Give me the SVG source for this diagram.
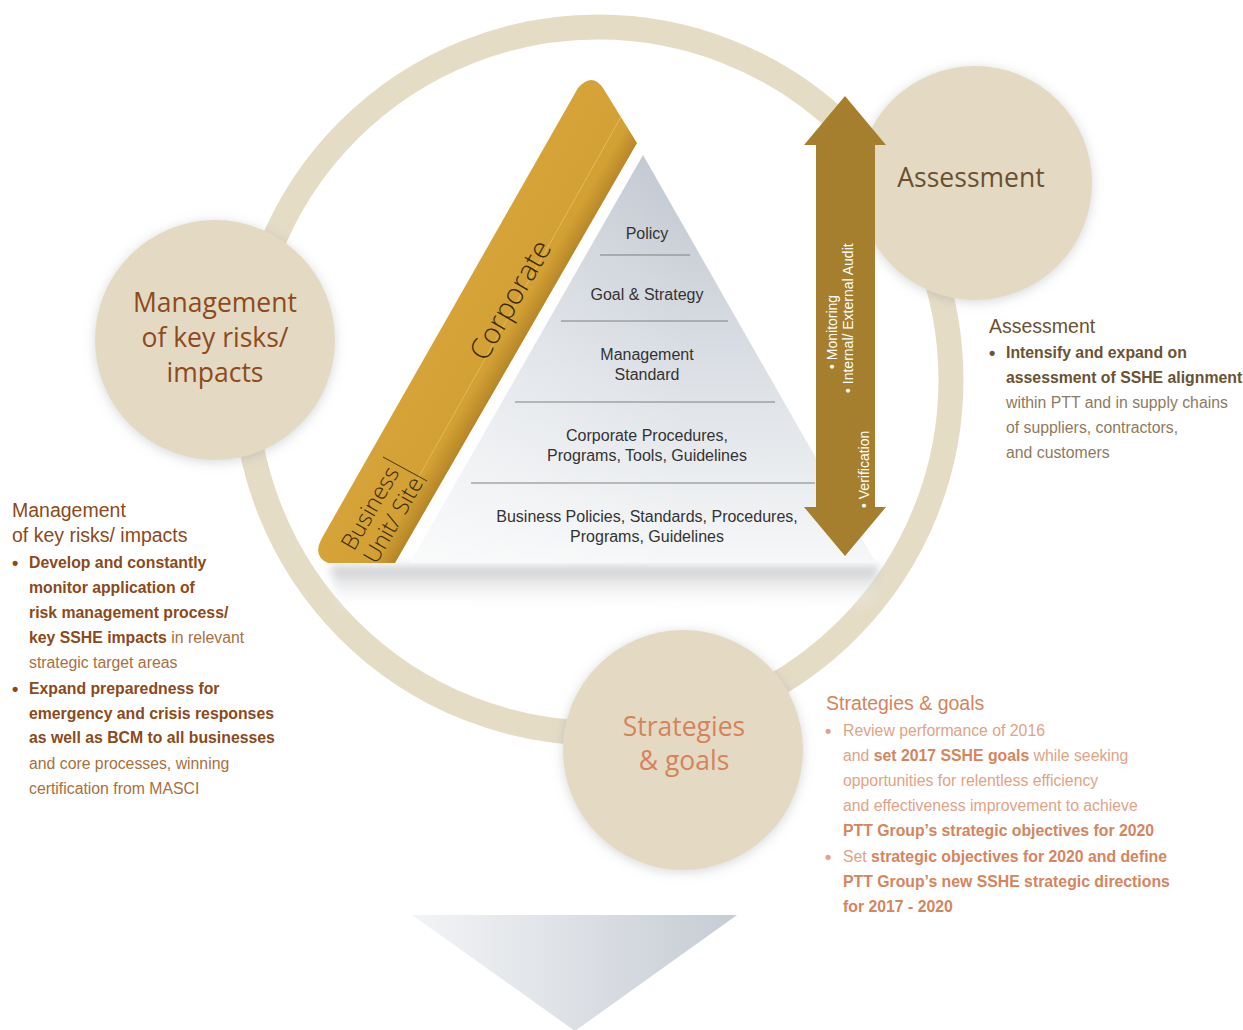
<svg xmlns="http://www.w3.org/2000/svg" width="1243" height="1030" viewBox="0 0 1243 1030">
<defs>
<style>
.ctitle{font-family:"Open Sans","Noto Sans",sans-serif;font-size:26.5px;text-anchor:middle}
.pyr{font-family:"Liberation Sans",Arial,sans-serif;font-size:16px;fill:#333333;text-anchor:middle}
.arr{font-family:"Liberation Sans",Arial,sans-serif;font-size:14px;fill:#ffffff}
.bar{font-family:"Open Sans","Liberation Sans",sans-serif;font-weight:300;fill:#3a2a0c}
.body{font-family:"Liberation Sans",Arial,sans-serif;font-size:15.8px}
.head{font-family:"Liberation Sans",Arial,sans-serif;font-size:19.5px}
.b{font-weight:bold}
.bul{font-size:18px;font-weight:bold}
.lvl{stroke:#808080;stroke-width:1.2}
</style>
<filter id="sh" x="-20%" y="-20%" width="140%" height="140%">
<feDropShadow dx="0" dy="2" stdDeviation="6" flood-color="#8a8f96" flood-opacity="0.35"/>
</filter>
<filter id="blur" x="-10%" y="-50%" width="120%" height="200%">
<feGaussianBlur stdDeviation="5"/>
</filter>
<linearGradient id="pyrG" x1="0" y1="0" x2="0" y2="1">
<stop offset="0" stop-color="#bfc6cf"/>
<stop offset="0.55" stop-color="#dde1e6"/>
<stop offset="1" stop-color="#f6f7f8"/>
</linearGradient>
<linearGradient id="pyrG2" x1="0" y1="0" x2="1" y2="0">
<stop offset="0" stop-color="#ffffff" stop-opacity="0.45"/>
<stop offset="0.6" stop-color="#ffffff" stop-opacity="0"/>
</linearGradient>
<linearGradient id="barG" gradientUnits="userSpaceOnUse" x1="458" y1="300" x2="525" y2="339">
<stop offset="0" stop-color="#d6a339"/>
<stop offset="0.75" stop-color="#d3a034"/>
<stop offset="1" stop-color="#b58627"/>
</linearGradient>
<linearGradient id="shG" x1="0" y1="0" x2="0" y2="1">
<stop offset="0" stop-color="#c4c6c9"/>
<stop offset="1" stop-color="#ffffff" stop-opacity="0"/>
</linearGradient>
<linearGradient id="botG" x1="0" y1="0" x2="1" y2="0">
<stop offset="0" stop-color="#f3f4f6"/>
<stop offset="1" stop-color="#c6ccd4"/>
</linearGradient>
</defs>
<rect width="1243" height="1030" fill="#ffffff"/>

<g id="connectors">
<circle id="ring" cx="598" cy="380" r="353" fill="none" stroke="#e5dcc6" stroke-width="25"/>
</g>

<g id="node-management">
<circle cx="215" cy="340" r="120" fill="#e4dac4" filter="url(#sh)"/>
<text class="ctitle" fill="#8e4a1c"><tspan x="215" y="312">Management</tspan><tspan x="215" y="347">of key risks/</tspan><tspan x="215" y="382">impacts</tspan></text>
</g>

<g id="node-assessment">
<circle cx="975" cy="183" r="117" fill="#e4dac4" filter="url(#sh)"/>
<text class="ctitle" fill="#6b5030" x="971" y="187">Assessment</text>
</g>

<g id="node-strategies">
<circle cx="683" cy="750" r="120" fill="#e4dac4" filter="url(#sh)"/>
<text class="ctitle" fill="#d5845a"><tspan x="684" y="736">Strategies</tspan><tspan x="684" y="770">&amp; goals</tspan></text>
</g>

<g id="pyramid">
<polygon points="330,566 880,566 870,606 340,610" fill="url(#shG)" filter="url(#blur)"/>
<polygon points="643,155 410,563 876,563" fill="url(#pyrG)"/>
<polygon points="643,155 410,563 876,563" fill="url(#pyrG2)"/>
<line class="lvl" x1="600" y1="255" x2="690" y2="255"/>
<line class="lvl" x1="561" y1="321" x2="728" y2="321"/>
<line class="lvl" x1="515" y1="402" x2="775" y2="402"/>
<line class="lvl" x1="471" y1="483" x2="815" y2="483"/>
<text class="pyr" x="647" y="239">Policy</text>
<text class="pyr" x="647" y="300">Goal &amp; Strategy</text>
<text class="pyr"><tspan x="647" y="360">Management</tspan><tspan x="647" y="380">Standard</tspan></text>
<text class="pyr"><tspan x="647" y="441">Corporate Procedures,</tspan><tspan x="647" y="461">Programs, Tools, Guidelines</tspan></text>
<text class="pyr"><tspan x="647" y="522">Business Policies, Standards, Procedures,</tspan><tspan x="647" y="542">Programs, Guidelines</tspan></text>
</g>

<g id="corporate-bar">
<path d="M 328,563 L 395,563 L 637,143 L 603,88 Q 592,72 578,88 L 322,538 Q 312,556 328,563 Z" fill="url(#barG)"/>
<line x1="622" y1="115" x2="417" y2="480" stroke="#f3d58c" stroke-opacity="0.6" stroke-width="0.8"/>
<line x1="383" y1="457" x2="427" y2="481" stroke="#4a3510" stroke-width="1"/>
<text class="bar" font-size="29" text-anchor="middle" transform="translate(519,305) rotate(-60)">Corporate</text>
<text class="bar" font-size="23" text-anchor="middle" transform="translate(377,512) rotate(-60)">Business</text>
<text class="bar" font-size="23" text-anchor="middle" transform="translate(400,524) rotate(-60)">Unit/ Site</text>
</g>

<g id="monitoring-arrow">
<path d="M 845,96 L 886,145 L 875,145 L 875,507 L 886,507 L 845,556 L 804,507 L 816,507 L 816,145 L 804,145 Z" fill="#a57f2d"/>
<text class="arr" transform="translate(837,369) rotate(-90)">• Monitoring</text>
<text class="arr" transform="translate(853,393) rotate(-90)">• Internal/ External Audit</text>
<text class="arr" transform="translate(869,508) rotate(-90)">• Verification</text>
</g>

<g id="text-management">
<text class="head" fill="#8b4a1a"><tspan x="12" y="517">Management</tspan><tspan x="12" y="542">of key risks/ impacts</tspan></text>
<g class="body">
<text x="12" y="569" fill="#8b4a1a" class="bul">•</text>
<text x="29" y="568" fill="#8b4a1a" class="b">Develop and constantly</text>
<text x="29" y="593" fill="#8b4a1a" class="b">monitor application of</text>
<text x="29" y="618" fill="#8b4a1a" class="b">risk management process/</text>
<text x="29" y="643" fill="#a8703f"><tspan fill="#8b4a1a" font-weight="bold">key SSHE impacts</tspan> in relevant</text>
<text x="29" y="668" fill="#a8703f">strategic target areas</text>
<text x="12" y="695" fill="#8b4a1a" class="bul">•</text>
<text x="29" y="694" fill="#8b4a1a" class="b">Expand preparedness for</text>
<text x="29" y="719" fill="#8b4a1a" class="b">emergency and crisis responses</text>
<text x="29" y="743" fill="#8b4a1a" class="b">as well as BCM to all businesses</text>
<text x="29" y="769" fill="#a8703f">and core processes, winning</text>
<text x="29" y="794" fill="#a8703f">certification from MASCI</text>
</g>
</g>

<g id="text-assessment">
<text class="head" fill="#6b5232" x="989" y="333">Assessment</text>
<g class="body">
<text x="989" y="359" fill="#6b5232" class="bul">•</text>
<text x="1006" y="358" fill="#6b5232" class="b">Intensify and expand on</text>
<text x="1006" y="383" fill="#6b5232" class="b">assessment of SSHE alignment</text>
<text x="1006" y="408" fill="#8e7a60">within PTT and in supply chains</text>
<text x="1006" y="433" fill="#8e7a60">of suppliers, contractors,</text>
<text x="1006" y="458" fill="#8e7a60">and customers</text>
</g>
</g>

<g id="text-strategies">
<text class="head" fill="#d4845c" x="826" y="710">Strategies &amp; goals</text>
<g class="body">
<text x="825" y="737" fill="#e1a385" class="bul">•</text>
<text x="843" y="736" fill="#e1a385">Review performance of 2016</text>
<text x="843" y="761" fill="#e1a385">and <tspan fill="#d4855d" font-weight="bold">set 2017 SSHE goals</tspan> while seeking</text>
<text x="843" y="786" fill="#e1a385">opportunities for relentless efficiency</text>
<text x="843" y="811" fill="#e1a385">and effectiveness improvement to achieve</text>
<text x="843" y="836" fill="#d4855d" class="b">PTT Group’s strategic objectives for 2020</text>
<text x="825" y="863" fill="#e1a385" class="bul">•</text>
<text x="843" y="862" fill="#e1a385">Set <tspan fill="#d4855d" font-weight="bold">strategic objectives for 2020 and define</tspan></text>
<text x="843" y="887" fill="#d4855d" class="b">PTT Group’s new SSHE strategic directions</text>
<text x="843" y="912" fill="#d4855d" class="b">for 2017 - 2020</text>
</g>
</g>

<g id="bottom-arrow">
<polygon points="412,915 737,915 575,1031" fill="url(#botG)"/>
</g>
</svg>
